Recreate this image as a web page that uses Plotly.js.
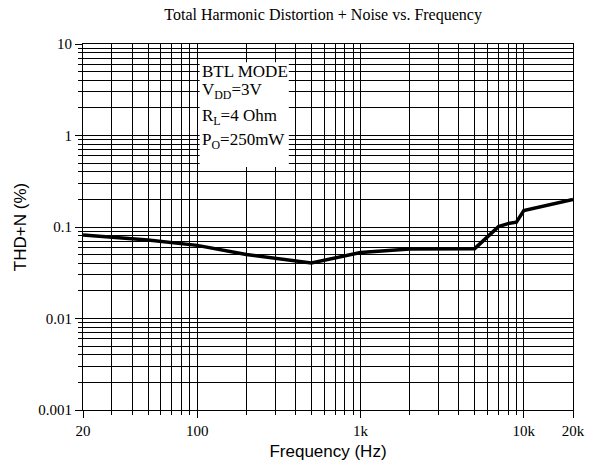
<!DOCTYPE html>
<html>
<head>
<meta charset="utf-8">
<script src="https://cdn.plot.ly/plotly-3.0.1.min.js"></script>
<style>html,body{margin:0;padding:0;background:#fff;}#chart{width:603px;height:466px;}</style>
</head>
<body>
<div id="chart"></div>
<script>
// Data
const freqHz = [20, 50, 100, 200, 500, 1000, 2000, 5000, 7000, 8000, 9000, 10000, 20000];
const thdPct = [0.082, 0.072, 0.063, 0.050, 0.0405, 0.0525, 0.0575, 0.058, 0.101, 0.109, 0.113, 0.151, 0.2];

const xMajorVals = [20, 100, 1000, 10000, 20000];
const xMajorText = ["20", "100", "1k", "10k", "20k"];
const xMinorVals = [30,40,50,60,70,80,90,200,300,400,500,600,700,800,900,2000,3000,4000,5000,6000,7000,8000,9000];
const yMajorVals = [0.001, 0.01, 0.1, 1, 10];
const yMajorText = ["0.001", "0.01", "0.1", "1", "10"];
const yMinorVals = [];
[0.001, 0.01, 0.1, 1].forEach(d => { for (let k = 2; k <= 9; k++) yMinorVals.push(+(d * k).toPrecision(3)); });

const noteLines = ["BTL MODE", "V<sub>DD</sub>=3V", "R<sub>L</sub>=4 Ohm", "P<sub>O</sub>=250mW"];

const serif = "Liberation Serif, Times New Roman, serif";
const sans = "Liberation Sans, Arial, sans-serif";

const trace = {
  x: freqHz, y: thdPct, type: "scatter", mode: "lines",
  line: {color: "#000", width: 3.5}, hoverinfo: "skip"
};

const noteY = [0.926, 0.872, 0.800, 0.735];
const annotations = noteLines.map((t, i) => ({
  text: t, xref: "paper", yref: "paper", x: 0.238, y: noteY[i],
  xanchor: "left", yanchor: "middle", showarrow: false,
  font: {family: serif, size: 17, color: "#000"}
}));

const layout = {
  width: 603, height: 466,
  margin: {l: 83, r: 30, t: 44, b: 56},
  paper_bgcolor: "#fff", plot_bgcolor: "#fff",
  showlegend: false,
  title: {
    text: "Total Harmonic Distortion + Noise vs. Frequency",
    font: {family: serif, size: 16, color: "#000"},
    x: 0.49, xref: "paper", xanchor: "center",
    y: 1 - 14/466, yref: "container", yanchor: "middle"
  },
  xaxis: {
    type: "log", range: [Math.log10(20), Math.log10(20000)],
    tickmode: "array", tickvals: xMajorVals, ticktext: xMajorText,
    ticks: "outside", ticklen: 7, tickwidth: 1, tickcolor: "#000",
    showgrid: true, gridcolor: "#000", gridwidth: 1,
    showline: true, linecolor: "#000", linewidth: 1, mirror: true,
    zeroline: false,
    tickfont: {family: serif, size: 15, color: "#000"},
    minor: {tickmode: "array", tickvals: xMinorVals, ticks: "outside", ticklen: 4, tickcolor: "#000",
            showgrid: true, gridcolor: "#000", gridwidth: 1},
    title: {text: "Frequency (Hz)", font: {family: sans, size: 17, color: "#000"}, standoff: 7}
  },
  yaxis: {
    type: "log", range: [-3, 1],
    tickmode: "array", tickvals: yMajorVals, ticktext: yMajorText,
    ticks: "outside", ticklen: 7, tickwidth: 1, tickcolor: "#000",
    showgrid: true, gridcolor: "#000", gridwidth: 1,
    showline: true, linecolor: "#000", linewidth: 1, mirror: true,
    zeroline: false,
    tickfont: {family: serif, size: 15, color: "#000"},
    minor: {tickmode: "array", tickvals: yMinorVals, ticks: "outside", ticklen: 4, tickcolor: "#000",
            showgrid: true, gridcolor: "#000", gridwidth: 1},
    title: {text: "THD+N (%)", font: {family: sans, size: 17, color: "#000"}, standoff: 7}
  },
  shapes: [{
    type: "rect", xref: "paper", yref: "paper",
    x0: 0.238, x1: 0.420, y0: 0.664, y1: 0.950,
    fillcolor: "#fff", line: {width: 0}, layer: "above"
  }],
  annotations: annotations
};

Plotly.newPlot("chart", [trace], layout, {staticPlot: true, displayModeBar: false});
</script>
</body>
</html>
